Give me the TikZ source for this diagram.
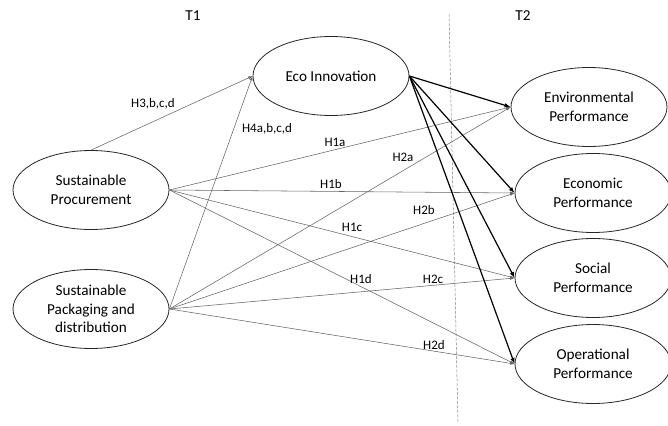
\documentclass[tikz,border=0pt]{standalone}
\usepackage{fontspec}
\setmainfont{Carlito}
\usetikzlibrary{shapes.geometric,arrows.meta}
\begin{document}
\begin{tikzpicture}[x=1pt,y=-1pt,
  ell/.style={ellipse,draw=black!85,line width=0.8pt,minimum width=156pt,minimum height=79pt,inner sep=0pt,align=center,font=\fontsize{15.2}{18.7}\selectfont},
  conn/.style={draw=black!60,line width=0.55pt,-{Latex[length=4.5pt,width=3pt]}},
  econn/.style={draw=black,line width=1.2pt,-{Latex[length=6pt,width=4.5pt]}},
  lab/.style={font=\fontsize{13}{15}\selectfont,inner sep=1pt}
]
\useasboundingbox (0,0) rectangle (668,425);
% time labels
\node[font=\fontsize{15.2}{17}\selectfont] (t1) at (193,16) {T1};
\node[font=\fontsize{15.2}{17}\selectfont] (t2) at (523,16) {T2};
% dashed separator
\coordinate (d1) at (449,14);
\coordinate (d2) at (458,423);
\draw[dashed,draw=black!50,line width=0.5pt,dash pattern=on 3pt off 1.5pt] (d1) -- (d2);
% nodes
\node[ell] (eco) at (331,76) {Eco Innovation};
\node[ell] (sp) at (91,190) {Sustainable\\Procurement};
\node[ell] (spk) at (91,309) {Sustainable\\Packaging and\\distribution};
\node[ell] (env) at (589,107) {Environmental\\Performance};
\node[ell] (econ) at (593,193) {Economic\\Performance};
\node[ell] (soc) at (593,278) {Social\\Performance};
\node[ell] (oper) at (593,364) {Operational\\Performance};
% T1 -> eco
\draw[conn] (sp.north) -- (eco.west);
\draw[conn] (spk.east) -- (eco.west);
% procurement -> outcomes
\draw[conn] (sp.east) -- (env.west);
\draw[conn] (sp.east) -- (econ.west);
\draw[conn] (sp.east) -- (soc.west);
\draw[conn] (sp.east) -- (oper.west);
% packaging -> outcomes
\draw[conn] (spk.east) -- (env.west);
\draw[conn] (spk.east) -- (econ.west);
\draw[conn] (spk.east) -- (soc.west);
\draw[conn] (spk.east) -- (oper.west);
% eco -> outcomes
\draw[econn] (eco.east) -- (env.west);
\draw[econn] (eco.east) -- (econ.west);
\draw[econn] (eco.east) -- (soc.west);
\draw[econn] (eco.east) -- (oper.west);
% labels
\node[lab] (l3) at (153,104) {H3,b,c,d};
\node[lab] (l4) at (267,129) {H4a,b,c,d};
\node[lab] (l1a) at (335,142) {H1a};
\node[lab] (l2a) at (403,157) {H2a};
\node[lab] (l1b) at (331,184) {H1b};
\node[lab] (l2b) at (424,210) {H2b};
\node[lab] (l1c) at (352,227) {H1c};
\node[lab] (l1d) at (361,279) {H1d};
\node[lab] (l2c) at (433,279) {H2c};
\node[lab] (l2d) at (434,345) {H2d};
\end{tikzpicture}
\end{document}
